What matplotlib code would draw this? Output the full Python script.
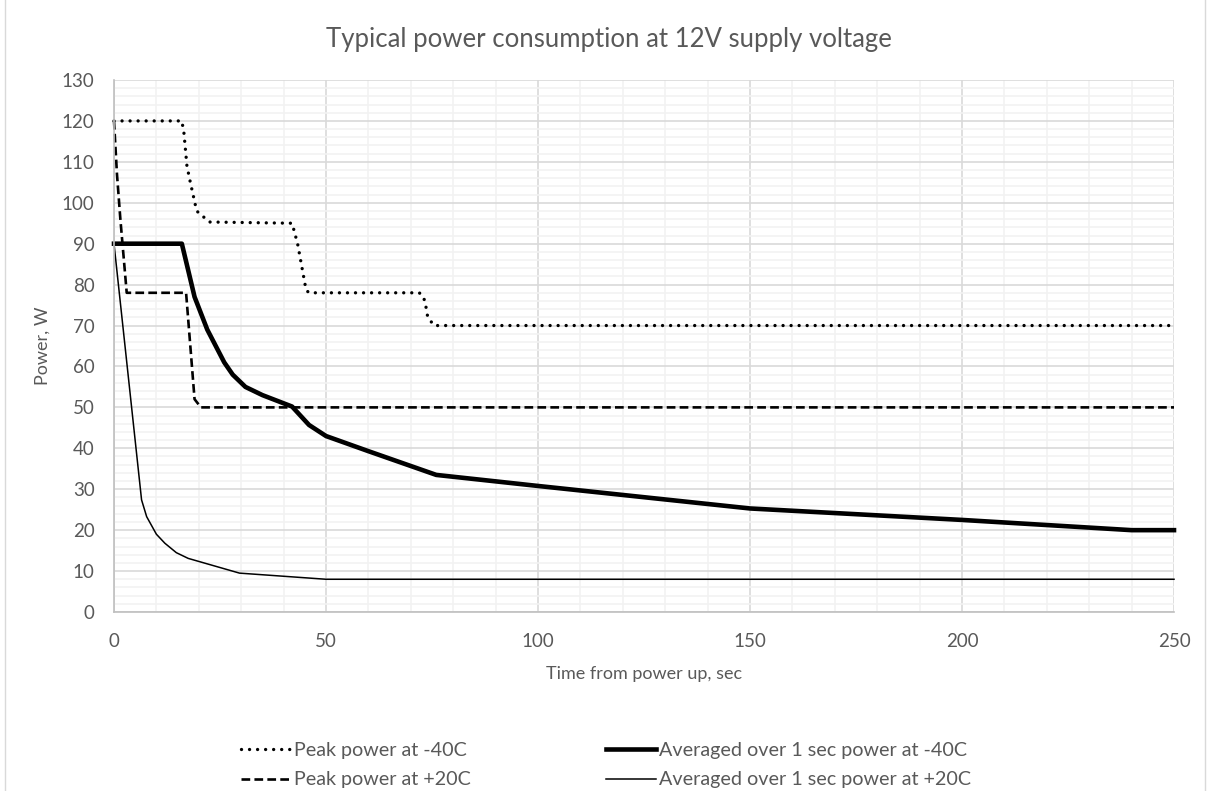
import matplotlib
matplotlib.use("Agg")
import matplotlib.pyplot as plt
from matplotlib.ticker import MultipleLocator
from matplotlib.lines import Line2D

# ---- data ----
peak_m40_t = [0, 16, 16.5, 17.2, 18, 19.5, 22.5, 42, 43.3, 45.3, 46, 72, 73, 73.5, 74, 75.5, 250]
peak_m40_p = [120, 120, 117, 109, 105, 98, 95.3, 95, 90, 78.7, 78, 78, 77, 75, 72, 70, 70]

peak_p20_t = [0, 0.7, 1.5, 3, 17, 19, 20.5, 250]
peak_p20_p = [120, 107, 96, 78, 78, 52, 50, 50]

avg_m40_t = [0, 16, 19, 22, 26, 28, 31, 35, 40, 42, 46, 50, 60, 76, 100, 150, 200, 240, 250]
avg_m40_p = [90, 90, 77, 69, 61, 58, 55, 53, 51, 50.2, 45.7, 43, 39.3, 33.5, 30.8, 25.3, 22.5, 20, 20]

avg_p20_t = [0, 6.5, 7.7, 10, 12, 14.7, 17.5, 29.6, 50, 250]
avg_p20_p = [90, 27.4, 23.3, 19, 16.8, 14.5, 13.1, 9.5, 8, 8]

labels = ["Peak power at -40C", "Peak power at +20C",
          "Averaged over 1 sec power at -40C", "Averaged over 1 sec power at +20C"]
title = "Typical power consumption at 12V supply voltage"
xlabel = "Time from power up, sec"
ylabel = "Power, W"

FONT = ["Lato", "DejaVu Sans"]
TXT = "#595959"
plt.rcParams['font.family'] = FONT

fig = plt.figure(figsize=(12.11, 7.91), dpi=100)
ax = fig.add_axes([114/1211, 1-612/791, (1174-114)/1211, (612-80)/791])

ax.set_xlim(0, 250)
ax.set_ylim(0, 130)
ax.xaxis.set_major_locator(MultipleLocator(50))
ax.xaxis.set_minor_locator(MultipleLocator(10))
ax.yaxis.set_major_locator(MultipleLocator(10))
ax.yaxis.set_minor_locator(MultipleLocator(2))
ax.grid(which='minor', color='#f2f2f2', lw=1.2, zorder=0)
ax.grid(which='major', color='#d9d9d9', lw=1.2, zorder=0)
ax.set_axisbelow(True)
for s in ['top', 'right']:
    ax.spines[s].set_visible(False)
for s in ['left', 'bottom']:
    ax.spines[s].set_color('#bfbfbf')
    ax.spines[s].set_linewidth(1.2)
ax.tick_params(which='both', length=0, labelsize=13.5, labelcolor=TXT)
ax.tick_params(axis='y', pad=14)
ax.tick_params(axis='x', pad=15)

l1, = ax.plot(peak_m40_t, peak_m40_p, color='black', lw=2.4,
              linestyle=(0, (0.01, 2.4)), dash_capstyle='round', solid_capstyle='round')
l2, = ax.plot(peak_p20_t, peak_p20_p, color='black', lw=1.9,
              linestyle=(0, (3.3, 1.6)), dash_capstyle='butt')
l3, = ax.plot(avg_m40_t, avg_m40_p, color='black', lw=3.3, solid_joinstyle='round')
l4, = ax.plot(avg_p20_t, avg_p20_p, color='black', lw=1.1)
for l in (l1, l2, l3, l4):
    l.set_clip_on(False)

fig.text(609/1211, 1-40/791, title, ha='center', va='center', fontsize=18.5, color=TXT)
ax.set_xlabel(xlabel, fontsize=13, color=TXT, labelpad=12)
ax.set_ylabel(ylabel, fontsize=13, color=TXT, labelpad=8)

leg = fig.legend([l1, l2, l3, l4], labels, ncol=2, loc='center',
                 bbox_to_anchor=(606/1211, 1-765/791), frameon=False,
                 fontsize=14.2, handlelength=2.5, handletextpad=0.15,
                 columnspacing=6.9, labelspacing=0.65)
for t in leg.get_texts():
    t.set_color(TXT)

# chart-area border (left and right edges visible)
fig.add_artist(Line2D([5/1211, 5/1211], [0, 1], color='#d9d9d9', lw=1, transform=fig.transFigure))
fig.add_artist(Line2D([1205/1211, 1205/1211], [0, 1], color='#d9d9d9', lw=1, transform=fig.transFigure))

fig.savefig("out.png", dpi=100, facecolor='white')
